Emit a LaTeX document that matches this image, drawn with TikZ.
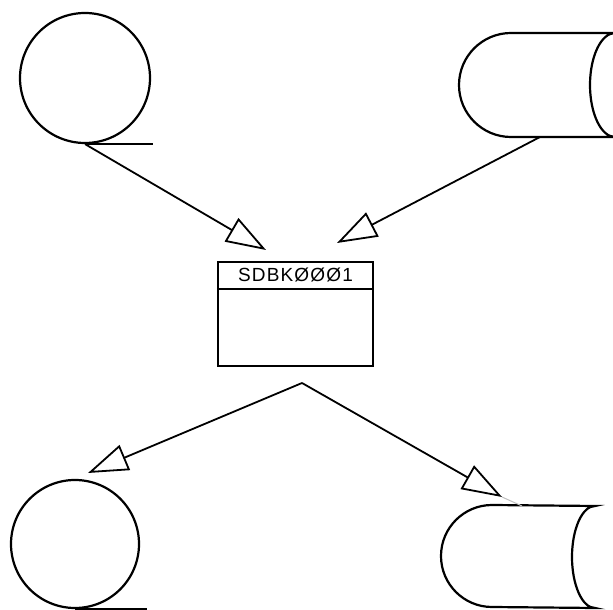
\documentclass[tikz,border=0pt]{standalone}
\usepackage{fontspec}
\setsansfont{Liberation Sans}
\newfontfamily\labelfont[LetterSpace=6]{Liberation Sans}
\usetikzlibrary{arrows.meta}

\begin{document}
\begin{tikzpicture}[x=1pt, y=1pt,
        every node/.style = {draw, line width=2.2pt},
        tape/.style = {circle, minimum size=130pt, inner sep=0pt},
        disk/.style = {line width=2.2pt},
        flow/.style = {line width=1.8pt,
            -{Triangle[open, length=40pt, width=27pt, line width=1.8pt]}}]
    \useasboundingbox (0,0) rectangle (613,610);
    \clip (0,0) rectangle (613,610);
    % input tape
    \node[tape] (tapein) at (85,532) {};
    \draw[disk] (tapein.south) -- ++(68,0);
    % input disk, runs off the right edge
    \draw[disk] (615,577) arc[start angle=90, end angle=270, x radius=25, y radius=52]
        -- (511,473) arc[start angle=270, end angle=90, radius=52] -- cycle;
    \coordinate (diskin) at (540,473);
    % the program box
    \node[minimum width=155pt, minimum height=104pt, inner sep=0pt] (sdbk) at (295.5,296) {};
    \draw[disk] ([yshift=-28pt]sdbk.north west) -- ([yshift=-28pt]sdbk.north east);
    \node[draw=none, font=\labelfont\fontsize{19}{19}\selectfont] (name) at ([yshift=-14pt]sdbk.north) {SDBKØØØ1};
    \coordinate (inA) at (266,360);
    \coordinate (inB) at (337,367);
    \coordinate (split) at (302,227);
    % output tape
    \node[tape, minimum size=128pt] (tapeout) at (75,66) {};
    \draw[disk] (tapeout.south) -- ++(72,0);
    % output disk
    \draw[disk] (595,104) arc[start angle=90, end angle=270, x radius=23, y radius=51]
        -- (492,3) arc[start angle=270, end angle=90, radius=51] -- cycle;
    \coordinate (diskout) at (522,104);
    \coordinate (outA) at (88,137);
    \coordinate (outB) at (502,113);
    % flow lines
    \draw[flow] (tapein.south) -- (inA);
    \draw[flow] (diskin) -- (inB);
    \draw[flow] (split) -- (outA);
    \draw[flow] (split) -- (outB);
    \draw[gray!50, line width=1pt] (outB) -- (diskout);
\end{tikzpicture}
\end{document}
